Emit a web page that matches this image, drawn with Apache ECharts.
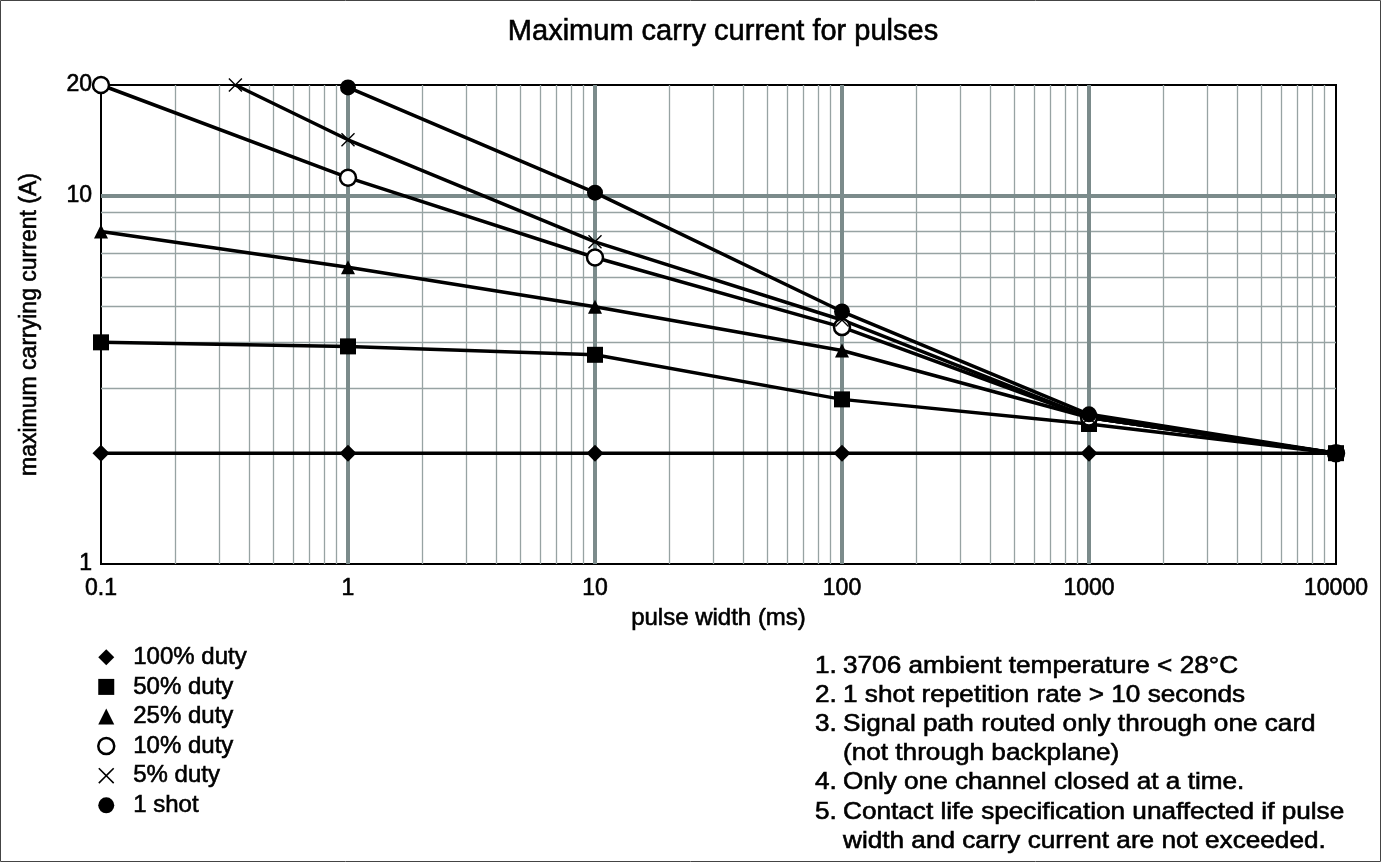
<!DOCTYPE html>
<html>
<head>
<meta charset="utf-8">
<script src="https://cdn.jsdelivr.net/npm/echarts@6/dist/echarts.min.js"></script>
<style>
html,body{margin:0;padding:0;background:#fff;}
#c{width:1382px;height:863px;}
</style>
</head>
<body>
<div id="c"></div>
<script>
// ---- data (pulse width in ms, current in A) ----
const duty100 = [[0.1, 2.0], [1, 2.0], [10, 2.0], [100, 2.0], [1000, 2.0], [10000, 2.0]];
const duty50  = [[0.1, 4.0], [1, 3.9], [10, 3.7], [100, 2.8], [1000, 2.4], [10000, 2.0]];
const duty25  = [[0.1, 8.0], [1, 6.4], [10, 5.0], [100, 3.8], [1000, 2.5], [10000, 2.0]];
const duty10  = [[0.1, 20], [1, 11.2], [10, 6.8], [100, 4.4], [1000, 2.5], [10000, 2.0]];
const duty5   = [[0.35, 20], [1, 14.2], [10, 7.5], [100, 4.6], [1000, 2.5], [10000, 2.0]];
const oneShot = [[1, 19.7], [10, 10.2], [100, 4.85], [1000, 2.55], [10000, 2.0]];

const seriesNames = ['100% duty', '50% duty', '25% duty', '10% duty', '5% duty', '1 shot'];
const xTicks = [0.1, 1, 10, 100, 1000, 10000];
const yTicks = [1, 10, 20];
const xMinorGrid = [0.2,0.3,0.4,0.5,0.6,0.7,0.8,0.9, 2,3,4,5,6,7,8,9, 20,30,40,50,60,70,80,90,
                    200,300,400,500,600,700,800,900, 2000,3000,4000,5000,6000,7000,8000,9000];
const xMajorGrid = [1, 10, 100, 1000];
const yMinorGrid = [2,3,4,5,6,7,8,9];
const yMajorGrid = [10];

const titleText = 'Maximum carry current for pulses';
const xAxisName = 'pulse width (ms)';
const yAxisName = 'maximum carrying current (A)';
const notes = [
  ['1.', '3706 ambient temperature < 28°C'],
  ['2.', '1 shot repetition rate > 10 seconds'],
  ['3.', 'Signal path routed only through one card'],
  ['',   '(not through backplane)'],
  ['4.', 'Only one channel closed at a time.'],
  ['5.', 'Contact life specification unaffected if pulse'],
  ['',   'width and carry current are not exceeded.']
];

const FONT = '"Liberation Sans", Arial, Helvetica, sans-serif';
const crossPath = 'path://M0,0.7L0.7,0L5,4.3L9.3,0L10,0.7L5.7,5L10,9.3L9.3,10L5,5.7L0.7,10L0,9.3L4.3,5Z';
const heavy = {textBorderColor: '#000', textBorderWidth: 0.6};

const chart = echarts.init(document.getElementById('c'), null, {renderer: 'canvas'});

function gridLines(list, axis, color, width) {
  return list.map(v => ({[axis]: v, lineStyle: {color: color, width: width, type: 'solid'}}));
}

const markData = []
  .concat(gridLines(xMinorGrid, 'xAxis', '#97a3a3', 1.3))
  .concat(gridLines(yMinorGrid, 'yAxis', '#97a3a3', 1.3))
  .concat(gridLines(xMajorGrid, 'xAxis', '#7b8b8b', 4))
  .concat(gridLines(yMajorGrid, 'yAxis', '#7b8b8b', 4));

function dataSeries(name, data, symbol, size, itemStyle) {
  return {
    name: name, type: 'line', data: data, z: 5,
    symbol: symbol, symbolSize: size,
    lineStyle: {color: '#000', width: 3.5},
    itemStyle: itemStyle || {color: '#000'},
    emphasis: {disabled: true},
    animation: false
  };
}

const notesGraphic = [];
notes.forEach((n, i) => {
  const y = 666 + i * 29.2;
  if (n[0]) notesGraphic.push({type: 'text', x: 815, y: y, scaleX: 1.09,
    style: {text: n[0], font: '24px ' + FONT, fill: '#000', textVerticalAlign: 'middle', stroke: '#000', lineWidth: 0.6}});
  notesGraphic.push({type: 'text', x: 843, y: y, scaleX: 1.09,
    style: {text: n[1], font: '24px ' + FONT, fill: '#000', textVerticalAlign: 'middle', stroke: '#000', lineWidth: 0.6}});
});

const option = {
  backgroundColor: '#fff',
  animation: false,
  title: {
    text: titleText,
    left: 718, textAlign: 'center', top: 12,
    textStyle: Object.assign({fontFamily: FONT, fontSize: 29, fontWeight: 'normal', color: '#000'}, heavy)
  },
  grid: {left: 101, right: 46, top: 85, bottom: 299, show: true, borderColor: '#000', borderWidth: 2, backgroundColor: 'transparent'},
  legend: {
    orient: 'vertical', left: 92, top: 640, itemGap: 5,
    itemWidth: 16, itemHeight: 16,
    textStyle: Object.assign({fontFamily: FONT, fontSize: 24, color: '#000', padding: [0, 0, 0, 14]}, heavy),
    data: [
      {name: seriesNames[0], icon: 'diamond'},
      {name: seriesNames[1], icon: 'rect', itemStyle: {color: '#000'}},
      {name: seriesNames[2], icon: 'triangle'},
      {name: seriesNames[3], icon: 'circle', itemStyle: {color: '#fff', borderColor: '#000', borderWidth: 2.5}},
      {name: seriesNames[4], icon: crossPath},
      {name: seriesNames[5], icon: 'circle'}
    ]
  },
  xAxis: {
    type: 'log', logBase: 10, min: xTicks[0], max: xTicks[xTicks.length - 1],
    name: xAxisName, nameLocation: 'middle', nameGap: 42,
    nameTextStyle: Object.assign({fontFamily: FONT, fontSize: 24, color: '#000'}, heavy),
    axisLine: {lineStyle: {color: '#000', width: 2}},
    axisTick: {show: false},
    splitLine: {show: false},
    axisLabel: Object.assign({fontFamily: FONT, fontSize: 23, color: '#000', margin: 13,
      formatter: v => String(+(+v).toPrecision(6))}, heavy)
  },
  yAxis: {
    type: 'log', logBase: 10, min: yTicks[0], max: yTicks[yTicks.length - 1],
    name: yAxisName, nameLocation: 'middle', nameGap: 60, nameRotate: 90,
    nameTextStyle: Object.assign({fontFamily: FONT, fontSize: 23, color: '#000'}, heavy),
    axisLine: {lineStyle: {color: '#000', width: 2}},
    axisTick: {show: false},
    splitLine: {show: false},
    axisLabel: Object.assign({fontFamily: FONT, fontSize: 23, color: '#000', margin: 9, showMaxLabel: true,
      formatter: v => String(Math.round(+v))}, heavy)
  },
  graphic: [
    {type: 'rect', shape: {x: 0.5, y: 0.5, width: 1380, height: 861}, style: {fill: 'none', stroke: '#444', lineWidth: 1}, silent: true}
  ].concat(notesGraphic),
  series: [
    {
      name: 'grid', type: 'line', data: [], z: 1, silent: true,
      markLine: {silent: true, symbol: 'none', z: 1, label: {show: false}, animation: false, data: markData}
    },
    dataSeries(seriesNames[0], duty100, 'diamond', 17),
    dataSeries(seriesNames[1], duty50, 'rect', 16),
    dataSeries(seriesNames[2], duty25, 'triangle', 14),
    dataSeries(seriesNames[3], duty10, 'circle', 16, {color: '#fff', borderColor: '#000', borderWidth: 2.5}),
    dataSeries(seriesNames[4], duty5, crossPath, 14),
    dataSeries(seriesNames[5], oneShot, 'circle', 16)
  ]
};
chart.setOption(option);
</script>
</body>
</html>
